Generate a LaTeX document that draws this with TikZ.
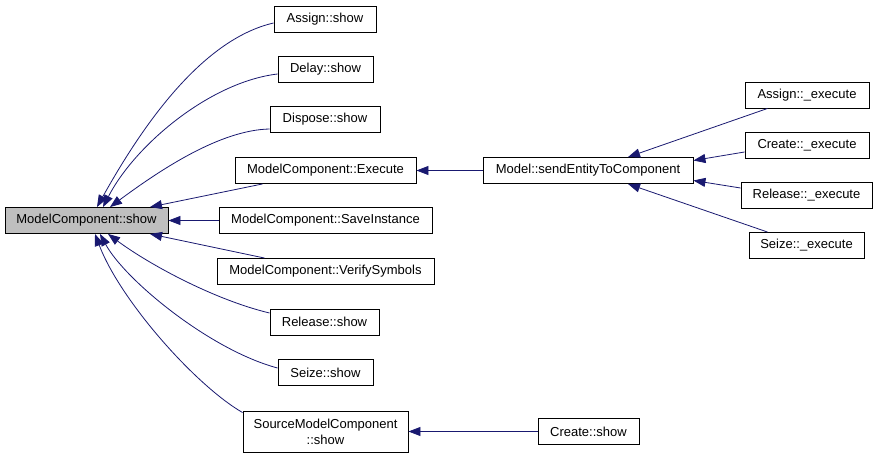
\documentclass[tikz,border=0pt]{standalone}
\usepackage{fontspec}
\setmainfont{Liberation Sans}
\usetikzlibrary{arrows.meta}
\definecolor{edgeblue}{RGB}{25,25,112}
\begin{document}
\begin{tikzpicture}[x=1pt,y=-1pt,>={Triangle[length=12pt,width=9pt]},
  box/.style={draw,line width=.9pt,minimum height=26pt,inner sep=0pt,font=\fontsize{13}{16}\selectfont},
  edge/.style={->,edgeblue,line width=.8pt}]
\useasboundingbox (0,0) rectangle (877,457);
\node[box,fill=gray!50,minimum width=163pt](mcshow) at (86.5,220.5){ModelComponent::show};
\node[box,minimum width=102pt](assign) at (325,19){Assign::show};
\node[box,minimum width=95pt](delay) at (325.5,69.5){Delay::show};
\node[box,minimum width=110pt](dispose) at (325,119.5){Dispose::show};
\node[box,minimum width=181pt](execute) at (325.5,170.5){ModelComponent::Execute};
\node[box,minimum width=213pt](saveinst) at (325.5,220.5){ModelComponent::SaveInstance};
\node[box,minimum width=217pt](verify) at (325.5,271.5){ModelComponent::VerifySymbols};
\node[box,minimum width=109pt](release) at (324.5,322){Release::show};
\node[box,minimum width=95pt](seize) at (325.5,372.5){Seize::show};
\node[box,minimum width=165pt,minimum height=41pt,align=center](source) at (325.5,431.5){SourceModelComponent\\::show};
\node[box,minimum width=210pt](send) at (588,170.5){Model::sendEntityToComponent};
\node[box,minimum width=101pt](createshow) at (588.5,431.5){Create::show};
\node[box,minimum width=124pt](assignexe) at (807,95){Assign::\_execute};
\node[box,minimum width=124pt](createexe) at (807,145){Create::\_execute};
\node[box,minimum width=131pt](releaseexe) at (806.5,195.5){Release::\_execute};
\node[box,minimum width=115pt](seizeexe) at (806.5,245.5){Seize::\_execute};
% callers of ModelComponent::show
\draw[edge]([yshift=-4pt]assign.west) .. controls (200,40) and (140,130) .. ([xshift=10.5pt]mcshow.north);
\draw[edge]([yshift=-4.5pt]delay.west) .. controls (210,82) and (135,145) .. ([xshift=16.5pt]mcshow.north);
\draw[edge]([yshift=-9.5pt]dispose.west) .. controls (220,130) and (160,170) .. ([xshift=23.5pt]mcshow.north);
\draw[edge]([xshift=28pt]execute.south west) -- ([xshift=63.5pt]mcshow.north);
\draw[edge](saveinst) -- (mcshow);
\draw[edge]([xshift=48pt]verify.north west) -- ([xshift=63.5pt]mcshow.south);
\draw[edge]([yshift=9pt]release.west) .. controls (215,300) and (150,265) .. ([xshift=21.5pt]mcshow.south);
\draw[edge]([yshift=4.5pt]seize.west) .. controls (210,350) and (125,280) .. ([xshift=13.5pt]mcshow.south);
\draw[edge]([yshift=-2pt]source.north west) .. controls (195,385) and (120,300) .. ([xshift=8.5pt]mcshow.south);
% second level
\draw[edge](send) -- (execute);
\draw[edge](createshow) -- (source);
\draw[edge]([xshift=23pt]assignexe.south west) -- ([xshift=40pt]send.north);
\draw[edge]([yshift=-7pt]createexe.west) -- ([yshift=10pt]send.east);
\draw[edge]([yshift=7.5pt]releaseexe.west) -- ([yshift=-10pt]send.east);
\draw[edge]([xshift=19pt]seizeexe.north west) -- ([xshift=40pt]send.south);
\end{tikzpicture}
\end{document}
